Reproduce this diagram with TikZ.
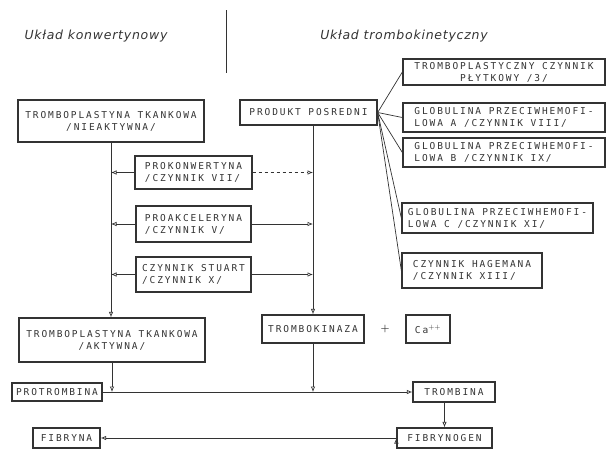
\documentclass[tikz,border=0pt]{standalone}
\usepackage{fontspec}
\usepackage{tikz}
\usetikzlibrary{positioning}
\usetikzlibrary{arrows.meta}
\newfontfamily\boxfont[LetterSpace=20]{DejaVu Sans Mono}
\newfontfamily\headfont[LetterSpace=6]{DejaVu Sans}
\definecolor{ink}{HTML}{333333}

\begin{document}
\begin{tikzpicture}[x=1pt,y=-1pt,on grid,
  box/.style={draw=ink,line width=1.3pt,inner sep=0pt,text=ink,
    font=\boxfont\fontsize{9.5}{12}\selectfont},
  head/.style={text=ink,font=\headfont\itshape\fontsize{12.5}{14}\selectfont},
  link/.style={draw=ink,line width=0.7pt},
  >={Latex[open,length=5.5pt,width=4.5pt]}]
   \useasboundingbox (0,0) rectangle (608,448);
   % headings
   \node[head] (hkon) at (96,36) {Układ konwertynowy};
   \node[head] (htro) at (404,36) {Układ trombokinetyczny};
   \coordinate (dtop) at (226,10);
   \coordinate (dbot) at (226,73);
   \draw[link] (dtop) -- (dbot);
   % left column
   \node[box,minimum width=186pt,minimum height=42pt,align=center] (tnie) at (111,121)
      {TROMBOPLASTYNA TKANKOWA\\/NIEAKTYWNA/};
   \node[box,minimum width=117pt,minimum height=33pt,align=left] (prok) at (193.5,172.5)
      {PROKONWERTYNA\\/CZYNNIK VII/};
   \node[box,minimum width=115pt,minimum height=36pt,align=left] (proa) [below=51.5pt of prok]
      {PROAKCELERYNA\\/CZYNNIK V/};
   \node[box,minimum width=115pt,minimum height=35pt,align=left] (stua) [below=50.5pt of proa]
      {CZYNNIK STUART\\/CZYNNIK X/};
   \node[box,minimum width=186pt,minimum height=44pt,align=center] (takt) at (112,340)
      {TROMBOPLASTYNA TKANKOWA\\/AKTYWNA/};
   % middle
   \node[box,minimum width=137pt,minimum height=25pt] (posr) at (308.5,112.5) {PRODUKT POSREDNI};
   \node[box,minimum width=102pt,minimum height=28pt] (tkin) at (313,329) {TROMBOKINAZA};
   \node[text=ink,font=\bfseries] (plus) at (385,329) {+};
   \node[box,minimum width=44pt,minimum height=28pt] (ca) at (428,329) {Ca$^{++}$};
   % bottom
   \node[box,minimum width=90pt,minimum height=18pt] (prot) at (57,392) {PROTROMBINA};
   \node[box,minimum width=82pt,minimum height=20pt] (trom) at (454,392) {TROMBINA};
   \node[box,minimum width=95pt,minimum height=20pt] (fgen) at (444.5,438) {FIBRYNOGEN};
   \node[box,minimum width=67pt,minimum height=20pt] (fbry) at (66.5,438) {FIBRYNA};
   % right column
   \node[box,minimum width=202pt,minimum height=26pt,align=center] (plyt) at (504,72)
      {TROMBOPLASTYCZNY CZYNNIK\\PŁYTKOWY /3/};
   \node[box,minimum width=202pt,minimum height=29pt,align=left] (glA) [below=45.5pt of plyt]
      {GLOBULINA PRZECIWHEMOFI-\\LOWA A /CZYNNIK VIII/};
   \node[box,minimum width=202pt,minimum height=29pt,align=left] (glB) [below=35pt of glA]
      {GLOBULINA PRZECIWHEMOFI-\\LOWA B /CZYNNIK IX/};
   \node[box,minimum width=191pt,minimum height=30pt,align=left] (glC) at (497.5,218)
      {GLOBULINA PRZECIWHEMOFI-\\LOWA C /CZYNNIK XI/};
   \node[box,minimum width=140pt,minimum height=35pt,align=left] (hag) at (472,270.5)
      {CZYNNIK HAGEMANA\\/CZYNNIK XIII/};
   % connectors
   \path[link,->]
    (tnie.south) edge (tnie.south |- takt.north)
    (prok.west) edge (prok.west -| tnie.south)
    (proa.west) edge (proa.west -| tnie.south)
    (stua.west) edge (stua.west -| tnie.south)
    (prok.east) edge[dashed] (prok.east -| tkin.north)
    (proa.east) edge (proa.east -| tkin.north)
    (stua.east) edge (stua.east -| tkin.north)
    (tkin.north |- posr.south) edge (tkin.north)
    (tkin.south) edge (tkin.south |- prot.east)
    (takt.south) edge (takt.south |- prot.east)
    (prot.east) edge (trom.west)
    (fgen.north |- trom.south) edge (fgen.north)
    (fgen.west) edge (fbry.east);
   \foreach \n in {plyt,glA,glB,glC,hag}
    \draw[link] (posr.east) -- (\n.west);
\end{tikzpicture}
\end{document}
